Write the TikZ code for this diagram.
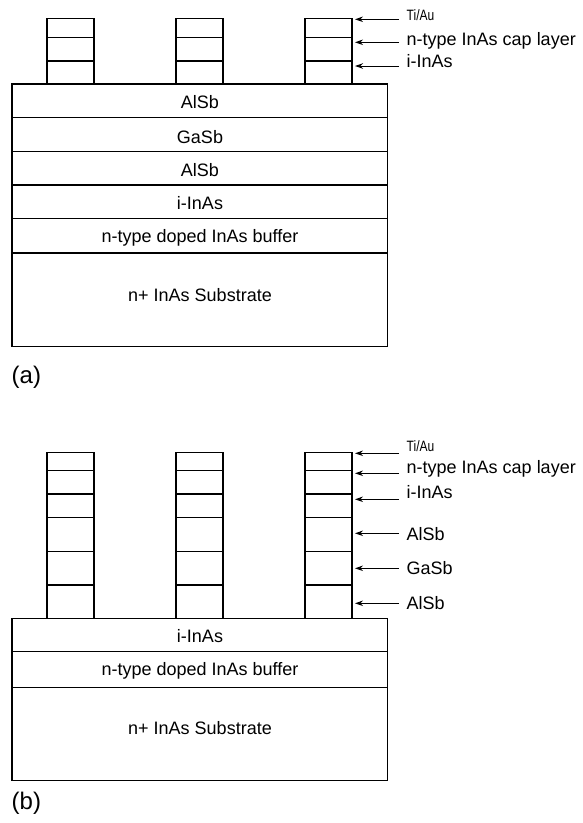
\documentclass[tikz,border=0pt]{standalone}
\usepackage{fontspec}
\usepackage{graphicx}
\setmainfont{Liberation Sans}
\usetikzlibrary{arrows.meta}
\newcommand{\tiau}{\scalebox{0.8}[1]{Ti/Au}}
\begin{document}
\begin{tikzpicture}[x=1pt,y=-1pt, line width=1.4pt,
  lay/.style={font=\fontsize{18}{20}\selectfont, anchor=base, inner sep=0pt},
  lab/.style={font=\fontsize{18}{20}\selectfont, anchor=base west, inner sep=0pt},
  smalllab/.style={font=\fontsize{15}{17}\selectfont, anchor=base west, inner sep=0pt},
  arr/.style={line width=1pt, -{Stealth[length=8pt,width=5.5pt]}},
  panel/.style={font=\fontsize{24}{28}\selectfont, anchor=base west, inner sep=0pt}]
\useasboundingbox (0,0) rectangle (582,823);

% ---------- panel (a) ----------
\draw (12,84) rectangle (387.5,346.7);
\foreach \y in {117.7,151.5,185,218.5,253} \draw (12,\y) -- (387.5,\y);
\foreach \x in {47,176,305} {
  \draw (\x,18.3) rectangle (\x+47,84);
  \draw (\x,37.3) -- (\x+47,37.3);
  \draw (\x,61) -- (\x+47,61);
}
\node[lay] (a1) at (200,108) {AlSb};
\node[lay] (a2) at (200,143) {GaSb};
\node[lay] (a3) at (200,176) {AlSb};
\node[lay] (a4) at (200,209.5) {i-InAs};
\node[lay] (a5) at (200,242.5) {n-type doped InAs buffer};
\node[lay] (a6) at (200,301) {n+ InAs Substrate};

\coordinate (at1) at (355,19.3);  \coordinate (as1) at (399,19.3);
\coordinate (at2) at (355,42.3);  \coordinate (as2) at (399,42.3);
\coordinate (at3) at (355,66);    \coordinate (as3) at (399,66);
\draw[arr] (as1) -- (at1);
\draw[arr] (as2) -- (at2);
\draw[arr] (as3) -- (at3);
\node[smalllab] (al1) at (406,20.5) {\tiau};
\node[lab] (al2) at (406,45.3) {n-type InAs cap layer};
\node[lab] (al3) at (406,67) {i-InAs};

\node[panel] (pa) at (11,383) {(a)};

% ---------- panel (b) ----------
\draw (12,618.3) rectangle (387.5,780.7);
\foreach \y in {651.7,687.3} \draw (12,\y) -- (387.5,\y);
\foreach \x in {47,176,305} {
  \draw (\x,452.3) rectangle (\x+47,618.3);
  \foreach \y in {470.7,494,517.7,551.7,585} \draw (\x,\y) -- (\x+47,\y);
}
\node[lay] (b1) at (200,642.5) {i-InAs};
\node[lay] (b2) at (200,675.5) {n-type doped InAs buffer};
\node[lay] (b3) at (200,734.5) {n+ InAs Substrate};

\coordinate (bt1) at (355,453.3);  \coordinate (bs1) at (399,453.3);
\coordinate (bt2) at (355,473.3);  \coordinate (bs2) at (399,473.3);
\coordinate (bt3) at (355,499.3);  \coordinate (bs3) at (399,499.3);
\coordinate (bt4) at (355,533.3);  \coordinate (bs4) at (399,533.3);
\coordinate (bt5) at (355,568.3);  \coordinate (bs5) at (399,568.3);
\coordinate (bt6) at (355,603.3);  \coordinate (bs6) at (399,603.3);
\foreach \i in {1,...,6} \draw[arr] (bs\i) -- (bt\i);
\node[smalllab] (bl1) at (406,451) {\tiau};
\node[lab] (bl2) at (406,473.3) {n-type InAs cap layer};
\node[lab] (bl3) at (406,498.3) {i-InAs};
\node[lab] (bl4) at (406,540.5) {AlSb};
\node[lab] (bl5) at (406,574) {GaSb};
\node[lab] (bl6) at (406,609) {AlSb};

\node[panel] (pb) at (11,809) {(b)};
\end{tikzpicture}
\end{document}
